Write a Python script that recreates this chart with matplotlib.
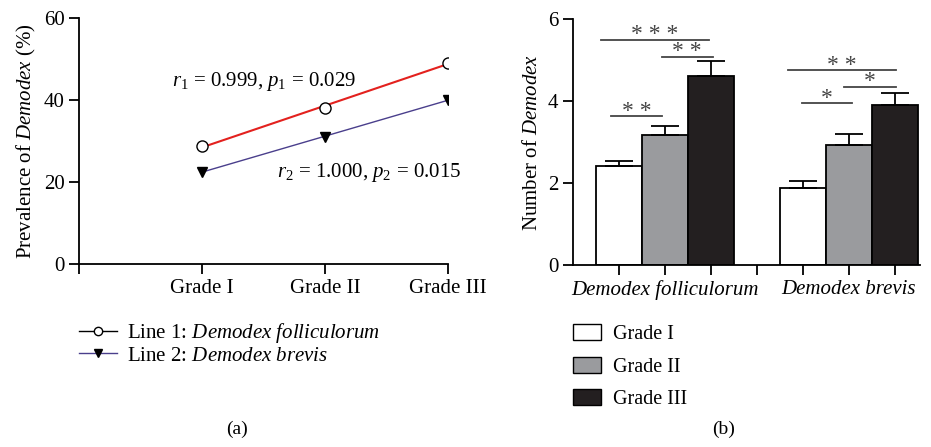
import numpy as np
import matplotlib
matplotlib.use("Agg")
import matplotlib.pyplot as plt
from matplotlib.lines import Line2D
from matplotlib.patches import Patch

plt.rcParams['font.family'] = 'Liberation Serif'
plt.rcParams['mathtext.fontset'] = 'custom'
plt.rcParams['mathtext.rm'] = 'Liberation Serif'
plt.rcParams['mathtext.it'] = 'Liberation Serif:italic'

# panel (a) data
grades = ['Grade I', 'Grade II', 'Grade III']
grade_x = [1, 2, 3]
prev_follic = [28.7, 38.1, 49.0]
prev_brevis = [22.5, 31.0, 40.0]

# panel (b) data
species = ['Demodex folliculorum', 'Demodex brevis']
count_means = {
    'Grade I': [2.41, 1.89],
    'Grade II': [3.17, 2.92],
    'Grade III': [4.61, 3.90],
}
count_err = {
    'Grade I': [0.13, 0.16],
    'Grade II': [0.23, 0.28],
    'Grade III': [0.36, 0.30],
}
bar_colors = ['white', '#9a9b9e', '#231f20']

# significance brackets: (x start, x end, y, label)
sig = [
    (-0.39, 1.96, 5.50, '* * *'),
    (0.93, 2.04, 5.09, '* *'),
    (-0.17, 0.93, 3.63, '* *'),
    (3.67, 6.04, 4.75, '* *'),
    (4.89, 6.04, 4.35, '*'),
    (3.98, 5.07, 3.95, '*'),
]

fig = plt.figure(figsize=(9.31, 4.47), dpi=100)
ax1 = fig.add_axes([0.0849, 0.409, 0.396, 0.551])
ax2 = fig.add_axes([0.6155, 0.407, 0.3725, 0.550])

fs = 15

# ---- panel (a)
fit1 = np.polyfit(grade_x, prev_follic, 1)
fit2 = np.polyfit(grade_x, prev_brevis, 1)
xx = np.array([grade_x[0], grade_x[-1]])
ax1.plot(xx, np.polyval(fit1, xx), color='#e3211e', lw=1.5, zorder=2)
ax1.plot(xx, np.polyval(fit2, xx), color='#4a3f8c', lw=1.0, zorder=2)
ax1.plot(grade_x, prev_follic, 'o', mfc='white', mec='black', mew=1.0, ms=8, zorder=3)
ax1.plot(grade_x, prev_brevis, 'v', color='black', ms=7.5, zorder=3)

ax1.text(0.756, 44.4, r'$r_1$ = 0.999, $p_1$ = 0.029', fontsize=fs, va='center', ha='left')
ax1.text(1.61, 22.4, r'$r_2$ = 1.000, $p_2$ = 0.015', fontsize=fs, va='center', ha='left')

ax1.set_xlim(0, 3)
ax1.set_ylim(0, 60)
ax1.set_xticks([0] + grade_x)
ax1.set_xticklabels([''] + grades)
ax1.set_yticks([0, 20, 40, 60])
ax1.set_ylabel(r'Prevalence of $\mathit{Demodex}$ (%)', fontsize=fs)

h1 = Line2D([], [], color='black', lw=1.0, marker='o', mfc='white', mec='black', ms=6)
h2 = Line2D([], [], color='#4a3f8c', lw=1.0, marker='v', mfc='black', mec='black', ms=6)
fig.legend([h1, h2],
           [r'Line 1: $\mathit{Demodex\ folliculorum}$', r'Line 2: $\mathit{Demodex\ brevis}$'],
           loc='upper left', bbox_to_anchor=(0.085, 0.282), frameon=False, fontsize=15,
           handlelength=1.8, handletextpad=0.5, labelspacing=0.05, borderpad=0, borderaxespad=0)

# ---- panel (b)
base = np.array([0, 4])
for i, g in enumerate(grades):
    ax2.bar(base + i, count_means[g], width=1.0, color=bar_colors[i], edgecolor='black',
            linewidth=1.3, yerr=[np.zeros(2), count_err[g]], capsize=10,
            error_kw=dict(elinewidth=1.3, capthick=1.3, ecolor='black'), label=g)

for x0, x1, y, lab in sig:
    ax2.plot([x0, x1], [y, y], color='#444444', lw=1.3, clip_on=False)
    ax2.text((x0 + x1) / 2, y - 0.01, lab, ha='center', va='baseline', fontsize=17, color='#444444')

ax2.set_xlim(-1, 6.55)
ax2.set_ylim(0, 6)
ax2.set_xticks(range(7))
ax2.set_xticklabels(['', species[0], '', '', '', species[1], ''], fontstyle='italic')
ax2.set_yticks([0, 2, 4, 6])
ax2.set_ylabel(r'Number of $\mathit{Demodex}$', fontsize=fs)

handles = [Patch(facecolor=c, edgecolor='black', linewidth=1.0) for c in bar_colors]
fig.legend(handles, grades, loc='upper left', bbox_to_anchor=(0.615, 0.275), frameon=False,
           fontsize=14.5, handlelength=1.4, handleheight=0.85, handletextpad=0.6,
           labelspacing=0.62, borderpad=0, borderaxespad=0)

for ax in (ax1, ax2):
    for s in ('top', 'right'):
        ax.spines[s].set_visible(False)
    for s in ('left', 'bottom'):
        ax.spines[s].set_linewidth(1.3)
    ax.tick_params(labelsize=fs, width=1.3, length=7, colors='black')

fig.text(0.255, 0.04, '(a)', fontsize=14, ha='center', va='center')
fig.text(0.777, 0.04, '(b)', fontsize=14, ha='center', va='center')

fig.savefig('out.png', dpi=100)
